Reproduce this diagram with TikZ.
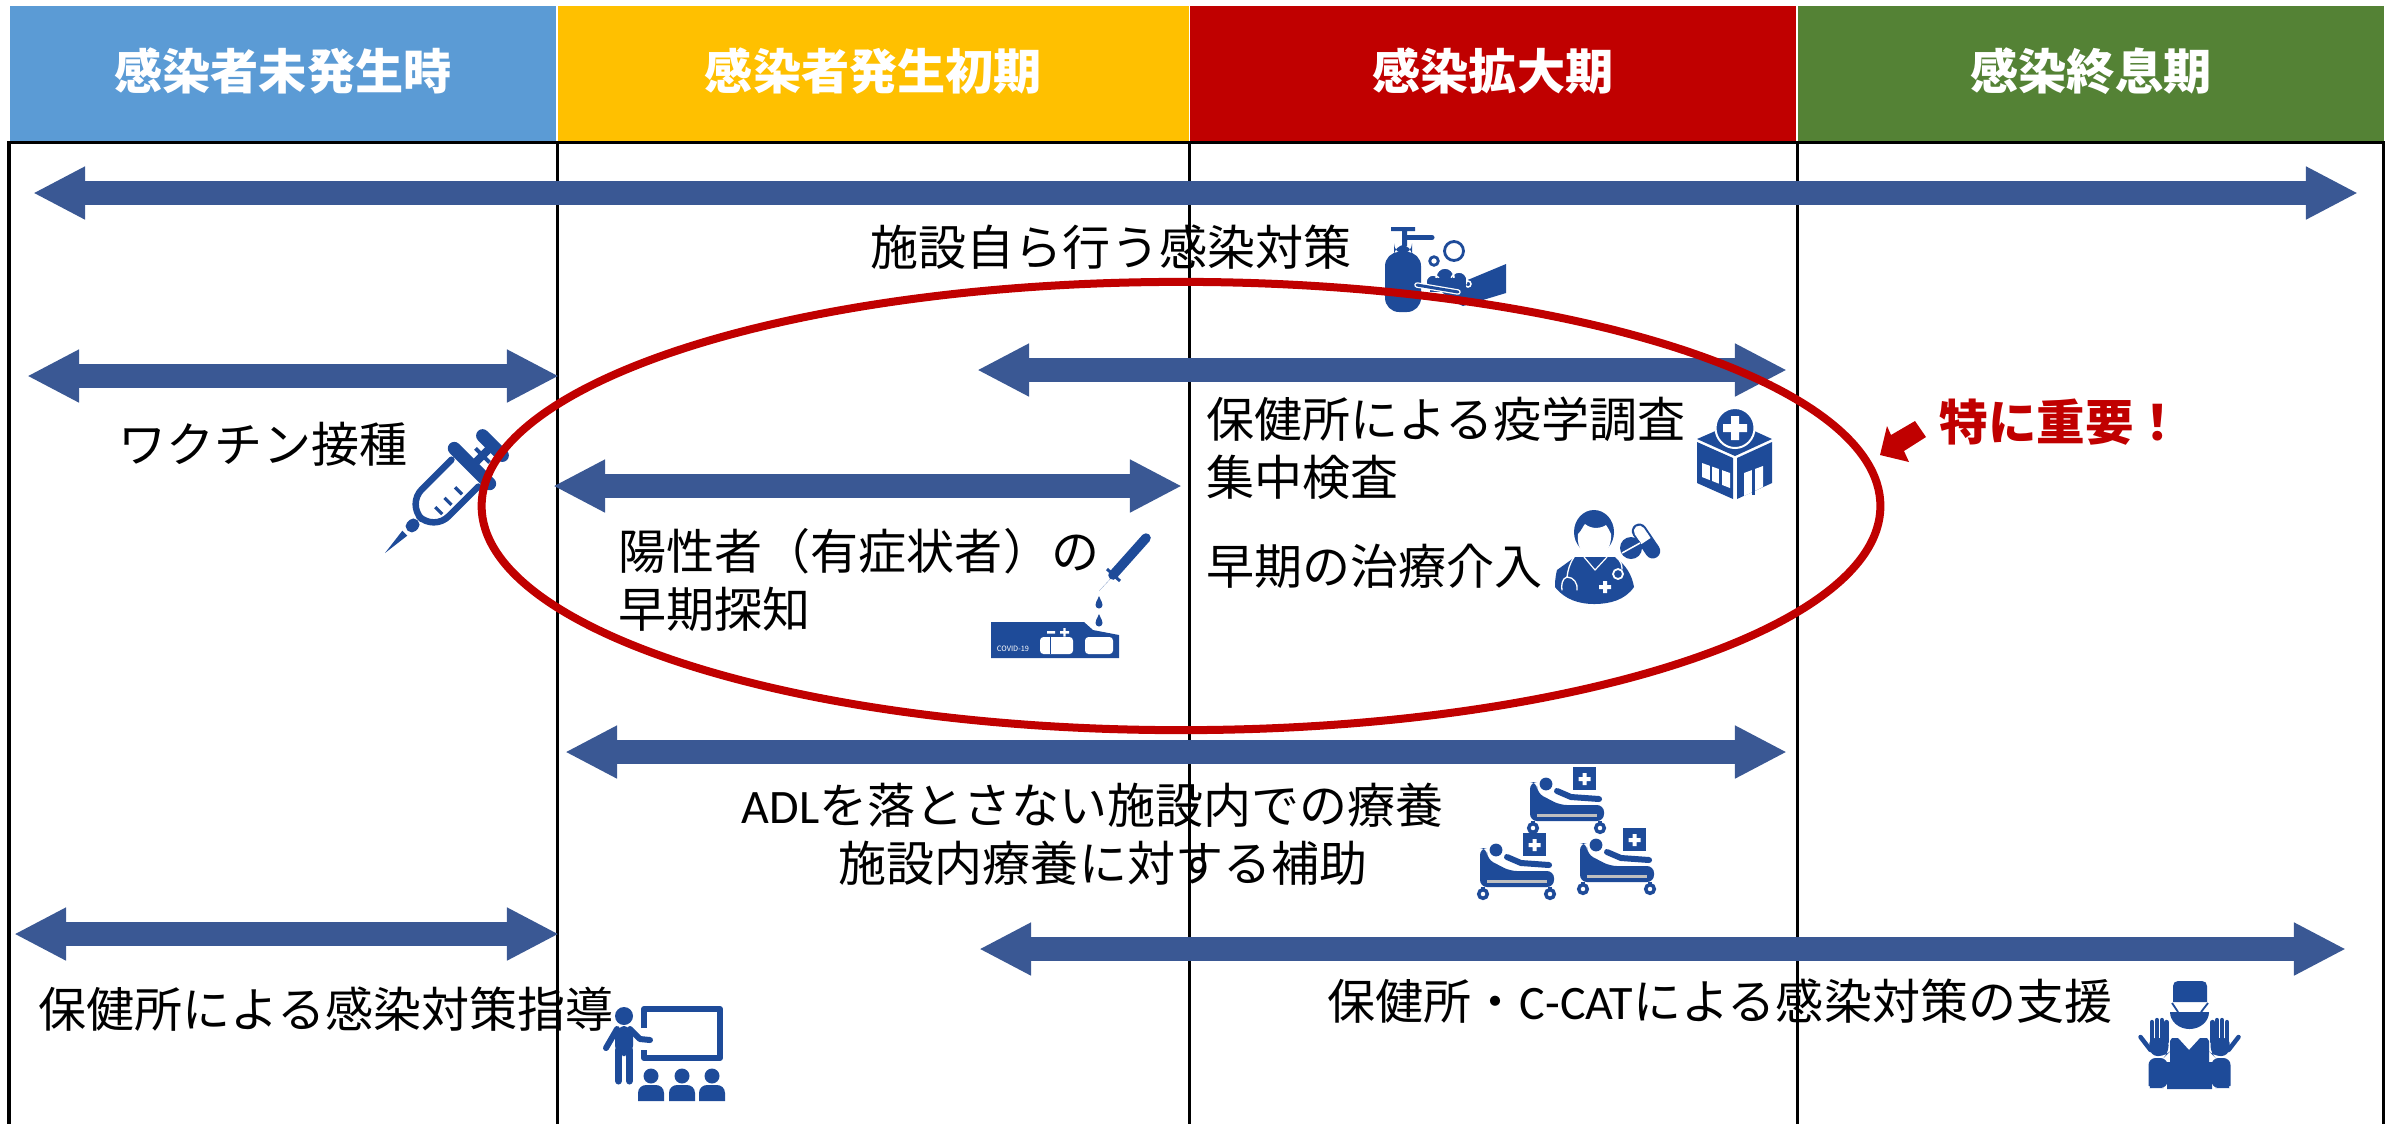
\documentclass[tikz,border=0pt]{standalone}
\usepackage{fontspec}
\usetikzlibrary{arrows.meta,shapes.geometric}
\setmainfont{Noto Sans CJK JP}
\newfontfamily\latn{Carlito}
\def\px{0.28453pt}
\definecolor{barblue}{HTML}{3A5894}
\definecolor{iconblue}{HTML}{1E4B99}
\definecolor{hblue}{HTML}{5B9BD5}
\definecolor{hyellow}{HTML}{FFC000}
\definecolor{hred}{HTML}{C00000}
\definecolor{hgreen}{HTML}{548235}
\newcommand{\hd}[1]{\raisebox{3pt}{#1}}
\tikzset{
  x=0.01cm,y=-0.01cm,
  hdr/.style={inner sep=0pt,text=white,minimum height=1.34cm,font=\fontsize{13.7}{16}\selectfont\bfseries},
  rule/.style={draw=black,line width=3*\px},
  bar/.style={draw=barblue,line width=24*\px,
     {Triangle[length=14.8pt,width=14pt]}-{Triangle[length=14.8pt,width=14pt]}},
  lbl/.style={inner sep=0pt,text=black,font=\fontsize{13.66}{16.6}\selectfont},
  icl/.style={draw=iconblue,line cap=round,line join=round},
  whl/.style={draw=white,line cap=round,line join=round},
  bedicon/.pic={
    \fill[iconblue,rounded corners=2] (0,15) -- (7,15) -- (7,26) -- (30,38) -- (74,38) -- (74,54) -- (0,54) -- cycle;
    \fill[white!75!black] (7,47) rectangle (67,49.5);
    \fill[iconblue] (16,17) circle[radius=6.4];
    \draw[icl,line width=6*\px] (27,24) -- (41,30) -- (69,32);
    \fill[iconblue] (43,0) rectangle (66,23);
    \fill[white] (52.5,6) rectangle (56.5,18) (48.5,10) rectangle (60.5,14);
    \draw[iconblue,line width=3.5*\px] (3,54) -- (3,57) (70,54) -- (70,57);
    \draw[iconblue,fill=white,line width=3.5*\px] (3,61) circle[radius=4.3] (70,61) circle[radius=4.3];
  },
  glovearm/.pic={
    \fill[iconblue,rounded corners=2] (-41,58) -- (-22,58) -- (-22,88) -- (-33,88) .. controls (-38,88) and (-41,84) .. (-41,79) -- cycle;
    \fill[iconblue,rounded corners=2] (-41,38) -- (-21,38) -- (-21,53) -- (-24,56) -- (-39,56) -- cycle;
    \draw[icl,line width=4.3*\px] (-37.5,42) -- (-37.5,22) (-32.5,42) -- (-32.5,20) (-27.5,42) -- (-27.5,20) (-23,42) -- (-23,22);
    \draw[icl,line width=4.5*\px] (-39,50) -- (-49,37);
  }
}
\begin{document}
\begin{tikzpicture}
\useasboundingbox (0,0) rectangle (2400,1123);
\clip (0,0) rectangle (2400,1123);

% header
\node[hdr,fill=hblue,minimum width=5.46cm] (h1) at (283,73.5) {\hd{感染者未発生時}};
\node[hdr,fill=hyellow,minimum width=6.31cm] (h2) at (873.5,73.5) {\hd{感染者発生初期}};
\node[hdr,fill=hred,minimum width=6.06cm] (h3) at (1493,73.5) {\hd{感染拡大期}};
\node[hdr,fill=hgreen,minimum width=5.86cm] (h4) at (2091,73.5) {\hd{感染終息期}};

% frame
\coordinate (fl1) at (9,142); \coordinate (fl2) at (9,1130);
\coordinate (fr1) at (2383,142); \coordinate (fr2) at (2383,1130);
\draw[rule] (fl2) -- (fl1) -- (fr1) -- (fr2);
\foreach \n/\X in {d1/557,d2/1189,d3/1797}{
  \coordinate (\n a) at (\X,142); \coordinate (\n b) at (\X,1130);
  \draw[rule] (\n a) -- (\n b);
}

% bars (each drawn through a midpoint, so that the tips stay exact on long spans)
\foreach \n/\xa/\xm/\xb/\Y in {bb/33/1195/2358/193,bc/27/293/559/376,bd/977/1382/1787/370,be/553/868/1182/486,bf/565/1176/1787/752,bg/14/287/559/934,bh/979/1662/2346/949}{
  \coordinate (\n a) at (\xa,\Y); \coordinate (\n m) at (\xm,\Y); \coordinate (\n z) at (\xb,\Y);
  \draw[bar] (\n a) -- (\n m) -- (\n z);
}

% labels
\node[lbl] (t1) at (1111,247) {施設自ら行う感染対策};
\node[lbl] (t2) at (263,444) {ワクチン接種};
\node[lbl,anchor=west,align=left] (t3) at (618,580) {陽性者（有症状者）の\\早期探知};
\node[lbl,anchor=west,align=left] (t4) at (1206,448) {保健所による疫学調査\\集中検査};
\node[lbl,anchor=west] (t5) at (1206,566) {早期の治療介入};
\node[lbl,align=center] (t6) at (1093,834) {{\latn ADL}を落とさない施設内での療養\\\hspace*{5.7pt}施設内療養に対する補助};
\node[lbl] (t7) at (326,1009) {保健所による感染対策指導};
\node[lbl] (t8) at (1720,1001) {保健所・{\latn C-CAT}による感染対策の支援};
\node[inner sep=0pt,text=hred,font=\fontsize{13.8}{16}\selectfont\bfseries] (t9) at (2061,422) {特に重要！};

% soap icon
\fill[iconblue] (1391,227) rectangle (1415,231) (1402,230) rectangle (1407,246);
\draw[icl,line width=5*\px] (1407,237.5) -- (1432,237.5);
\fill[iconblue,rounded corners=3] (1394,245) rectangle (1412,254);
\fill[iconblue,rounded corners=4] (1385,252) rectangle (1421,312);
\draw[iconblue,line width=2.8*\px] (1454,251) circle[radius=9.5] (1434,261) circle[radius=4.3];
\fill[iconblue] (1506,264) -- (1506,293) -- (1463,306) -- (1450,300) -- (1440,290) -- (1470,279) -- cycle;
\fill[iconblue,draw=white,line width=1.5*\px] (1433,282) circle[radius=7] (1445,277) circle[radius=9] (1459,280) circle[radius=8] (1468,284) circle[radius=3];
\fill[iconblue] (1430,278) rectangle (1466,292);
\draw[whl,line width=5.5*\px] (1417,285) -- (1458,292);
\draw[icl,line width=3*\px] (1417,285) -- (1458,292);

% syringe
\begin{scope}[shift={(385,553)},rotate=45]
  \fill[iconblue] (0,0) -- (28,-3.5) -- (28,3.5) -- cycle;
  \fill[iconblue,rounded corners=1.5] (32,-6) rectangle (46,6);
  \draw[icl,line width=6.5*\px,rounded corners=6] (113,-19) -- (50,-19) -- (50,19) -- (113,19);
  \draw[icl,line width=13*\px] (123,-25) -- (123,25);
  \fill[iconblue] (129,-4) rectangle (146,4) (136,-10) rectangle (140,10);
  \draw[icl,line width=13*\px] (152,-14) -- (152,14);
  \draw[iconblue,line width=3.2*\px] (68,3) -- (68,13) (81,3) -- (81,13) (96,3) -- (96,13);
\end{scope}

% test kit
\fill[iconblue] (991,622) -- (1084,622) -- (1093,630) -- (1119,635) -- (1119,658) -- (991,658) -- cycle;
\fill[white,rounded corners=1] (1040,637) rectangle (1073,654) (1085,637) rectangle (1113,654);
\fill[iconblue] (1049.5,637) rectangle (1051,654);
\fill[white] (1047,631) rectangle (1055,633.5) (1060,631) rectangle (1069,633.5) (1063.3,628) rectangle (1065.7,636.5);
\node[inner sep=0pt,text=white,font=\fontsize{2.1}{3}\selectfont] (kit) at (1013,649) {COVID-19};
\draw[icl,line width=9.5*\px] (1146,538) -- (1113,575);
\draw[iconblue,line width=3*\px] (1107,569) -- (1120,581);
\fill[iconblue] (1115,574) -- (1099,591) -- (1112,577) -- (1118,580) -- cycle;
\fill[iconblue] (1099,596) .. controls (1101,601) and (1103,603) .. (1102.5,605) arc[start angle=0,end angle=180,radius=3.5] .. controls (1095,603) and (1097,601) .. (1099,596) -- cycle;
\fill[iconblue] (1099,614) .. controls (1101,619) and (1103,621) .. (1102.5,623) arc[start angle=0,end angle=180,radius=3.5] .. controls (1095,621) and (1097,619) .. (1099,614) -- cycle;

% hospital
\fill[iconblue] (1697,442) -- (1733,458) -- (1733,499) -- (1697,483) -- cycle;
\fill[iconblue] (1737,458) -- (1772,442) -- (1772,483) -- (1737,499) -- cycle;
\fill[iconblue] (1697,439) -- (1720,429) -- (1750,429) -- (1772,439) -- (1735,456) -- cycle;
\fill[white] (1702,463) -- (1730,473) -- (1730,488) -- (1702,477) -- cycle;
\draw[iconblue,line width=2.5*\px] (1711,463) -- (1711,482) (1720.5,467) -- (1720.5,486);
\fill[white] (1744,473) -- (1763,466) -- (1763,487) -- (1744,496) -- cycle;
\draw[iconblue,line width=2.2*\px] (1753.5,466) -- (1753.5,495);
\fill[iconblue,draw=white,line width=2*\px] (1735,428) ellipse[x radius=19.5,y radius=20];
\fill[white] (1731,416) rectangle (1739,440) (1723,424) rectangle (1747,432);

% doctor
\fill[iconblue] (1575,557) -- (1557,570) .. controls (1555,578) and (1555,583) .. (1555,587) .. controls (1565,600) and (1580,604) .. (1594,604) .. controls (1610,604) and (1625,600) .. (1634,587) .. controls (1632,575) and (1626,565) .. (1615,557) -- cycle;
\fill[iconblue] (1594,532) ellipse[x radius=20,y radius=22];
\fill[white] (1578,534) .. controls (1582,530) and (1583,526) .. (1585,524) .. controls (1592,530) and (1602,528) .. (1606,525) .. controls (1608,528) and (1610,531) .. (1611,534) .. controls (1612,550) and (1602,557) .. (1594,557) .. controls (1586,557) and (1576,550) .. (1578,534) -- cycle;
\draw[whl,line width=1.2*\px] (1584,557) -- (1595,570) -- (1607,557);
\draw[whl,line width=1.3*\px] (1574,557) .. controls (1569,565) and (1568,570) .. (1567,577) .. controls (1562,578) and (1561,586) .. (1562,590) (1567,577) .. controls (1574,577) and (1578,584) .. (1577,590);
\draw[whl,line width=1.3*\px] (1616,557) .. controls (1621,561) and (1622,565) .. (1622,569);
\draw[white,line width=1.8*\px] (1618,574) circle[radius=5];
\fill[white] (1603,581) rectangle (1607,593) (1599,585) rectangle (1611,589);
\begin{scope}[shift={(1646,541)},rotate=-56]
  \draw[icl,line width=15*\px] (-12,0) -- (12,0);
  \draw[whl,line width=11*\px] (-12,0) -- (-6,0);
  \fill[white] (-6,-5.5) rectangle (0,5.5);
\end{scope}
\fill[iconblue] (1631,548) circle[radius=11];
\draw[white,line width=1.5*\px] (1622,553) -- (1640,543);

% beds
\pic (bed1) at (1530,767) {bedicon};
\pic (bed2) at (1480,833) {bedicon};
\pic (bed3) at (1580,828) {bedicon};

% teacher
\fill[iconblue] (624,1016) circle[radius=9];
\draw[icl,line width=6*\px] (617,1029) -- (606,1048);
\draw[icl,line width=6*\px] (630,1029) -- (640,1039) -- (650,1040);
\fill[iconblue,rounded corners=3] (615,1026) rectangle (633,1056);
\draw[icl,line width=7*\px] (618.5,1050) -- (618.5,1081) (629.5,1050) -- (629.5,1081);
\draw[iconblue,line width=6*\px,line join=round] (644,1028) -- (644,1009) -- (720,1009) -- (720,1058) -- (644,1058) -- (644,1050);
\foreach \X in {651,682,712}{
  \fill[iconblue] (\X,1076) circle[radius=7.5];
  \begin{scope}[shift={(\X,1101)}]
    \fill[iconblue] (-13,0) -- (-13,-8) .. controls (-13,-13) and (-9,-16) .. (-5,-16) -- (5,-16) .. controls (9,-16) and (13,-13) .. (13,-8) -- (13,0) -- cycle;
  \end{scope}
}

% surgeon
\fill[iconblue] (2173,1002) -- (2173,986) .. controls (2173,983) and (2175,981) .. (2178,981) -- (2202,981) .. controls (2205,981) and (2207,983) .. (2207,986) -- (2207,1002) -- cycle;
\fill[iconblue] (2170,1012) -- (2209,1012) arc[start angle=0,end angle=180,x radius=19.5,y radius=17] -- cycle;
\draw[iconblue,line width=1.8*\px] (2172,1003) -- (2178,1012) (2208,1003) -- (2201,1012);
\fill[iconblue] (2170,1041) -- (2172,1038) -- (2178,1038) -- (2189,1050) -- (2200,1038) -- (2207,1038) -- (2209,1041) -- (2209,1062) -- (2212,1062) -- (2212,1089) -- (2167,1089) -- (2167,1062) -- (2170,1062) -- cycle;
\pic (gl) at (2189.5,1000) {glovearm};
\pic[xscale=-1] (gr) at (2189.5,1000) {glovearm};

% ring
\node[draw=hred,line width=8*\px,ellipse,inner sep=0pt,minimum width=13.98cm,minimum height=4.48cm] (ring) at (1181,506) {};

% red pointer
\fill[hred] (1880,455) -- (1887,426) -- (1891,435) -- (1915,421) -- (1926,437) -- (1904,451) -- (1909,462) -- cycle;
\end{tikzpicture}
\end{document}
